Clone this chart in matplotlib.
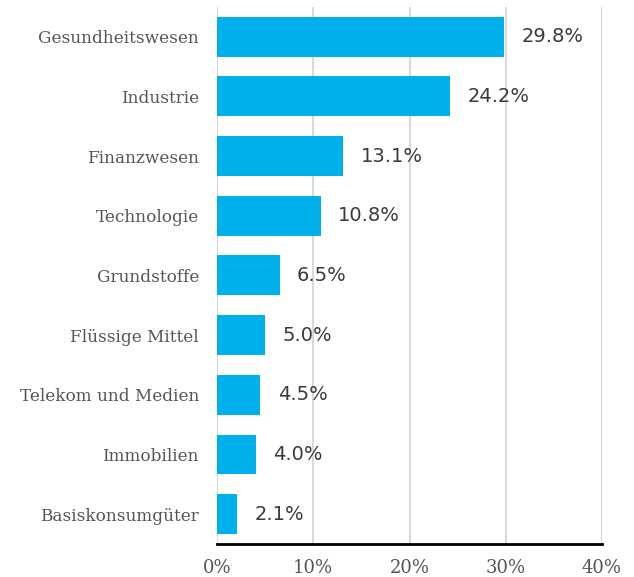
import matplotlib.pyplot as plt

categories = ["Gesundheitswesen", "Industrie", "Finanzwesen", "Technologie",
              "Grundstoffe", "Flüssige Mittel", "Telekom und Medien",
              "Immobilien", "Basiskonsumgüter"]
values = [29.8, 24.2, 13.1, 10.8, 6.5, 5.0, 4.5, 4.0, 2.1]
ticks = [0, 10, 20, 30, 40]

fig = plt.figure(figsize=(6.34, 5.77), dpi=100)
ax = fig.add_axes([0.3423, 0.0572, 0.6072, 0.9307])

ypos = list(range(len(categories)))
ax.barh(ypos, values, height=0.67, color="#00b0ea", zorder=3)

for y, v in zip(ypos, values):
    ax.text(v + 1.8, y, f"{v:.1f}%", va="center", ha="left",
            fontsize=14, color="#3a3a3a", family="DejaVu Sans")

ax.set_ylim(len(categories) - 0.5, -0.5)
ax.set_xlim(0, 40)
ax.set_xticks(ticks)
ax.set_xticklabels([f"{t}%" for t in ticks], family="DejaVu Serif",
                   fontsize=13, color="#555555")
ax.set_yticks(ypos)
ax.set_yticklabels(categories, family="DejaVu Serif", fontsize=12.2,
                   color="#555555")
ax.tick_params(axis="both", length=0)
ax.tick_params(axis="y", pad=13)
ax.tick_params(axis="x", pad=11)

ax.grid(axis="x", color="#d9d9d9", linewidth=1.5, zorder=0)
for s in ["top", "right", "left"]:
    ax.spines[s].set_visible(False)
ax.spines["bottom"].set_color("black")
ax.spines["bottom"].set_linewidth(2)
ax.spines["bottom"].set_zorder(4)

fig.savefig("out.png", dpi=100)
